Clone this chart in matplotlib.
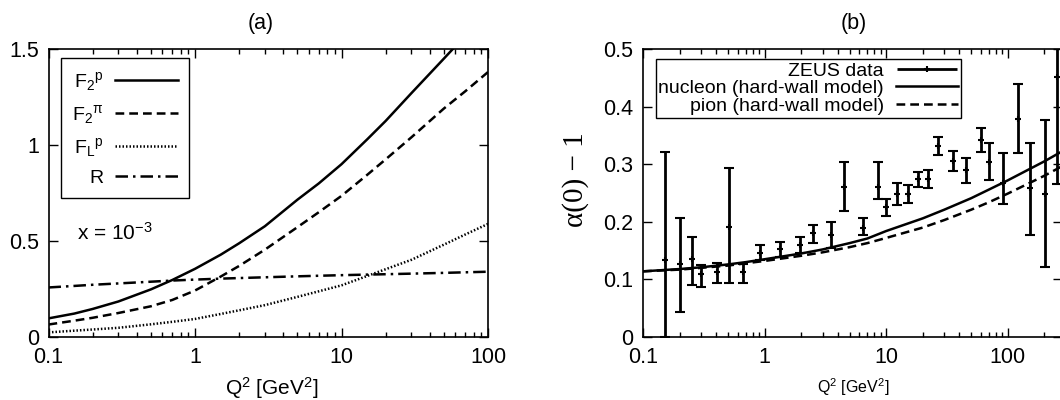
import numpy as np
import matplotlib
matplotlib.use("Agg")
import matplotlib.pyplot as plt
from matplotlib.legend_handler import HandlerErrorbar

plt.rcParams['font.family'] = ['Liberation Sans', 'DejaVu Sans']
plt.rcParams['mathtext.fontset'] = 'custom'
plt.rcParams['mathtext.rm'] = 'Liberation Sans'
plt.rcParams['mathtext.it'] = 'Liberation Sans:italic'

# ---- panel (a): structure functions at x = 1e-3 ----
q2_a = [0.1, 0.15, 0.2, 0.3, 0.5, 0.7, 1, 1.5, 2, 3, 5, 7, 10, 15, 20, 30, 50, 70, 100]
f2_p = [0.097, 0.122, 0.146, 0.185, 0.248, 0.297, 0.355, 0.429, 0.488, 0.577, 0.715, 0.80,
        0.90, 1.03, 1.125, 1.27, 1.45, 1.57, 1.72]
f2_pi = [0.065, 0.085, 0.10, 0.125, 0.16, 0.193, 0.242, 0.315, 0.37, 0.455, 0.572, 0.65,
         0.735, 0.845, 0.925, 1.04, 1.19, 1.28, 1.38]
fl_p = [0.024, 0.033, 0.039, 0.048, 0.066, 0.079, 0.094, 0.12, 0.139, 0.166, 0.209, 0.238,
        0.269, 0.318, 0.353, 0.402, 0.481, 0.534, 0.589]
r_ratio = [0.258, 0.266, 0.272, 0.279, 0.288, 0.294, 0.299, 0.304, 0.307, 0.311, 0.316, 0.319,
           0.322, 0.325, 0.327, 0.33, 0.334, 0.337, 0.34]

# ---- panel (b): pomeron intercept ----
q2_b = [0.1, 0.2, 0.3, 0.5, 0.7, 1, 2, 3, 5, 7, 10, 20, 30, 50, 70, 100, 200, 300]
nucleon = [0.114, 0.118, 0.121, 0.126, 0.13, 0.135, 0.145, 0.152, 0.163, 0.171, 0.184, 0.206,
           0.221, 0.241, 0.256, 0.272, 0.305, 0.326]
pion = [0.114, 0.117, 0.12, 0.124, 0.128, 0.132, 0.141, 0.147, 0.156, 0.163, 0.172, 0.19,
        0.203, 0.221, 0.234, 0.249, 0.28, 0.30]

zeus_q2 = [0.152, 0.202, 0.253, 0.301, 0.405, 0.505, 0.664, 0.92, 1.33, 1.94, 2.52, 3.51, 4.51,
           6.5, 8.63, 10.0, 12.2, 15.2, 18.4, 22.2, 26.9, 35.2, 45.4, 60.3, 70.5, 90.8, 122, 152, 202, 252]
zeus_val = [0.134, 0.127, 0.135, 0.109, 0.113, 0.191, 0.112, 0.146, 0.152, 0.16, 0.18, 0.177, 0.261,
            0.189, 0.261, 0.226, 0.248, 0.248, 0.274, 0.274, 0.332, 0.306, 0.29, 0.342, 0.304, 0.267, 0.378, 0.258, 0.248, 0.451]
zeus_lo = [0.134, 0.083, 0.044, 0.022, 0.019, 0.097, 0.019, 0.012, 0.013, 0.015, 0.016, 0.022, 0.042,
           0.012, 0.022, 0.016, 0.019, 0.015, 0.013, 0.016, 0.016, 0.017, 0.023, 0.02, 0.031, 0.036, 0.059, 0.081, 0.127, 0.185]
zeus_hi = [0.188, 0.079, 0.039, 0.016, 0.015, 0.102, 0.015, 0.014, 0.013, 0.014, 0.014, 0.023, 0.042,
           0.017, 0.042, 0.013, 0.019, 0.016, 0.013, 0.016, 0.016, 0.017, 0.02, 0.02, 0.033, 0.052, 0.061, 0.078, 0.128, 0.185]

W, H = 1060, 400
fig = plt.figure(figsize=(W / 100, H / 100), dpi=100)


def px(x0, y0, x1, y1):
    return [x0 / W, 1 - y1 / H, (x1 - x0) / W, (y1 - y0) / H]


ax1 = fig.add_axes(px(48.5, 49, 488, 337))
ax2 = fig.add_axes(px(643, 49, 1062, 337))

lw = 1.8
ax1.plot(q2_a, f2_p, 'k-', lw=lw, label='F$_2{}^{\\mathrm{p}}$')
ax1.plot(q2_a, f2_pi, 'k', ls=(0, (3.5, 2)), lw=lw, label='F$_2{}^{\\mathrm{\\pi}}$')
ax1.plot(q2_a, fl_p, 'k', ls=(0, (0.6, 0.8)), lw=lw, label='F$_\\mathrm{L}{}^{\\mathrm{p}}$')
ax1.plot(q2_a, r_ratio, 'k', ls=(0, (5, 2, 1, 2)), lw=lw, label='R')
ax1.set_xscale('log')
ax1.set_xlim(0.1, 100)
ax1.set_ylim(0, 1.5)
ax1.set_yticks([0, 0.5, 1, 1.5])
ax1.set_yticklabels(['0', '0.5', '1', '1.5'])
ax1.set_xticks([0.1, 1, 10, 100])
ax1.set_xticklabels(['0.1', '1', '10', '100'])
leg1 = ax1.legend(loc='upper left', bbox_to_anchor=(0.028, 0.969), borderaxespad=0,
                  markerfirst=False, fancybox=False, edgecolor='k', framealpha=1,
                  fontsize=14, handlelength=3.2, labelspacing=0.52, borderpad=0.6,
                  handletextpad=0.6)
leg1.get_frame().set_linewidth(1.0)
ax1.text(0.064, 0.337, 'x = 10$^{\\mathrm{-3}}$', transform=ax1.transAxes, fontsize=15,
         va='baseline')

# panel (b)
ax2.plot(q2_b, nucleon, 'k-', lw=lw, label='nucleon (hard-wall model)')
ax2.plot(q2_b, pion, 'k', ls=(0, (3.5, 2)), lw=lw, label='pion (hard-wall model)')
ax2.errorbar(zeus_q2, zeus_val, yerr=[zeus_lo, zeus_hi], fmt='k+', ms=4, mew=1.5,
             elinewidth=2, capsize=3.5, capthick=2)
proxy = ax2.errorbar([], [], xerr=[], fmt='k+', ms=4, mew=1.5, elinewidth=2,
                     capsize=3.5, capthick=2)
ax2.set_xscale('log')
ax2.set_xlim(0.1, 279)
ax2.set_ylim(0, 0.5)
ax2.set_yticks([0, 0.1, 0.2, 0.3, 0.4, 0.5])
ax2.set_yticklabels(['0', '0.1', '0.2', '0.3', '0.4', '0.5'])
ax2.set_xticks([0.1, 1, 10, 100])
ax2.set_xticklabels(['0.1', '1', '10', '100'])
h, l = ax2.get_legend_handles_labels()
leg2 = ax2.legend([proxy] + h[:2], ['ZEUS data'] + l[:2], loc='upper left',
                  bbox_to_anchor=(0.030, 0.965), borderaxespad=0, markerfirst=False,
                  fancybox=False, edgecolor='k', framealpha=1, fontsize=14,
                  handlelength=3.2, labelspacing=0.0, borderpad=0.15, handletextpad=0.6,
                  handler_map={proxy: HandlerErrorbar(xerr_size=1.55)})
leg2.get_frame().set_linewidth(1.0)

for ax in (ax1, ax2):
    ax.tick_params(which='both', direction='in', top=True, right=True, labelsize=15.5, width=1)
    ax.tick_params(which='major', length=6.5, pad=7)
    ax.tick_params(which='minor', length=3.5)
    ax.tick_params(axis='y', which='minor', left=False, right=False)
    for s in ax.spines.values():
        s.set_linewidth(1.2)

fig.text(261 / W, 1 - 24 / H, '(a)', ha='center', va='center', fontsize=15.5)
fig.text(854 / W, 1 - 24 / H, '(b)', ha='center', va='center', fontsize=15.5)
fig.text(272 / W, 1 - 388 / H, 'Q$^{2}$ [GeV$^{2}$]', ha='center', va='center', fontsize=15)
fig.text(853 / W, 1 - 387 / H, 'Q$^{2}$ [GeV$^{2}$]', ha='center', va='center', fontsize=11.5)
fig.text(576 / W, 1 - 180 / H, 'α(0) − 1', ha='center', va='center', rotation=90,
         fontsize=21, family='Liberation Serif')

fig.savefig('out.png', dpi=100)
